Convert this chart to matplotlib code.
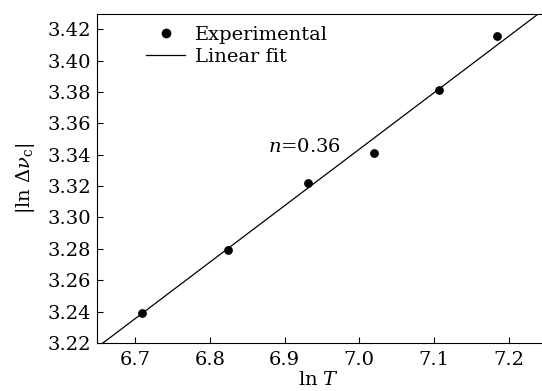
import matplotlib
matplotlib.use("Agg")
import matplotlib.pyplot as plt
import numpy as np
from matplotlib.lines import Line2D

plt.rcParams['font.family'] = ['DejaVu Serif']
plt.rcParams['mathtext.fontset'] = 'dejavuserif'

# Data
ln_T = [6.709, 6.824, 6.931, 7.020, 7.107, 7.184]
ln_dv = [3.239, 3.279, 3.322, 3.341, 3.381, 3.4155]
fit_slope = 0.36
fit_intercept = 0.8235
fit_x = [6.65, 7.25]
xticks = [6.7, 6.8, 6.9, 7.0, 7.1, 7.2]
yticks = [3.22, 3.24, 3.26, 3.28, 3.30, 3.32, 3.34, 3.36, 3.38, 3.40, 3.42]

fig = plt.figure(figsize=(5.42, 3.91), dpi=100)
ax = fig.add_axes([0.179, 0.1228, 0.819, 0.8412])

fx = np.array(fit_x)
ax.plot(fx, fit_slope * fx + fit_intercept, color='black', lw=0.9)
ax.scatter(ln_T, ln_dv, s=28, color='black', zorder=3)

ax.set_xlim(6.649, 7.243)
ax.set_ylim(3.22, 3.4296)
ax.set_xticks(xticks)
ax.set_xticklabels([f"{v:.1f}" for v in xticks])
ax.set_yticks(yticks)
ax.set_yticklabels([f"{v:.2f}" for v in yticks])
ax.tick_params(direction='in', length=4, width=0.8, labelsize=14, pad=4)
ax.tick_params(axis='x', pad=6)
ax.spines['right'].set_visible(False)
for s in ['top', 'left', 'bottom']:
    ax.spines[s].set_linewidth(0.8)

ax.set_xlabel(r'ln $T$', fontsize=14, labelpad=1)
ax.set_ylabel(r'|ln $\Delta\nu_{\rm c}$|', fontsize=14, labelpad=8)

ax.text(6.927, 3.345, r'$n$=0.36', fontsize=14, ha='center', va='center')

handles = [Line2D([], [], marker='o', ls='none', color='black', markersize=6),
           Line2D([], [], color='black', lw=0.9)]
ax.legend(handles, ['Experimental', 'Linear fit'], loc='upper left',
          bbox_to_anchor=(0.08, 1.005), frameon=False, fontsize=14,
          handlelength=2.0, handletextpad=0.5, labelspacing=0.18,
          borderaxespad=0.3)

fig.savefig('out.png', dpi=100)
